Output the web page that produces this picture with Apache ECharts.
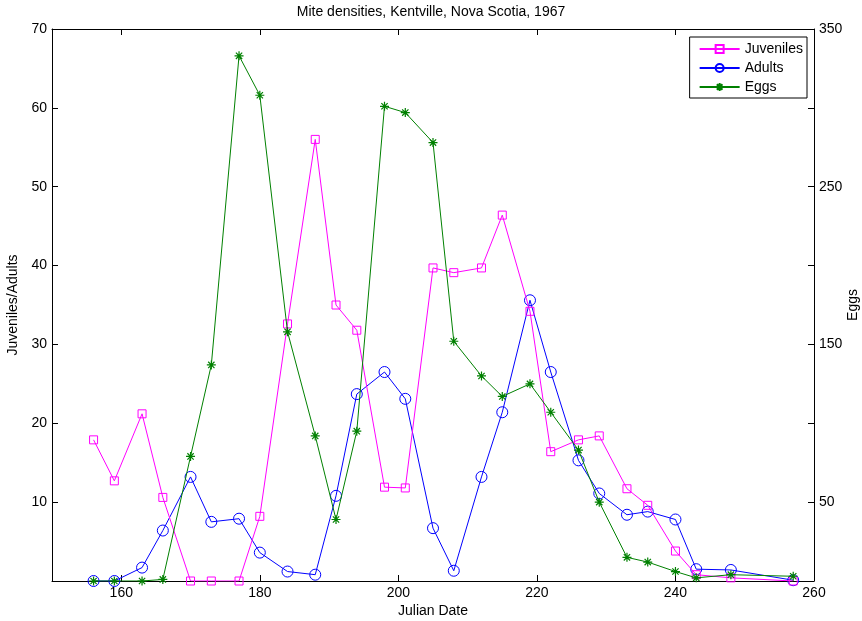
<!DOCTYPE html>
<html><head><meta charset="utf-8">
<script src="https://cdn.jsdelivr.net/npm/echarts@6/dist/echarts.min.js"></script>
<style>html,body{margin:0;padding:0;background:#fff}#c{width:862px;height:621px}</style>
</head><body><div id="c"></div>
<script>
const days = [156,159,163,166,170,173,177,180,184,188,191,194,198,201,205,208,212,215,219,222,226,229,233,236,240,243,248,257];
const juveniles = [17.9,12.7,21.2,10.6,0,0,0,8.2,32.6,56.0,35.0,31.8,11.9,11.8,39.7,39.1,39.7,46.4,34.2,16.4,17.9,18.4,11.7,9.6,3.8,0.8,0.4,0];
const adults = [0,0,1.7,6.4,13.2,7.5,7.9,3.6,1.2,0.8,10.8,23.7,26.5,23.1,6.7,1.3,13.2,21.4,35.6,26.5,15.3,11.1,8.4,8.8,7.8,1.5,1.4,0.1];
const eggs = [0,0,0,1,79,137,333,308,158,92,39,95,301,297,278,152,130,117,125,107,83,50,15,12,6,2,4,3];
const xTicks = [160,180,200,220,240,260];
const leftLabels = [10,20,30,40,50,60,70];
const rightTicks = [50,100,150,200,250,300,350];
const rightLabels = [50,150,250,350];

const font = 'Liberation Sans, Arial, Helvetica, sans-serif';
const pair = (xs, ys) => xs.map((x,i)=>[x, ys[i]]);
const star = 'path://M0,5L10,5M5,0L5,10M1.5,1.5L8.5,8.5M8.5,1.5L1.5,8.5';

const chart = echarts.init(document.getElementById('c'), null, {renderer:'canvas'});
const line = {show:true, onZero:false, lineStyle:{color:'#000', width:1}};
const tick = vals => ({show:true, inside:true, length:6, customValues:vals, lineStyle:{color:'#000', width:1}});
const lab = (vals, extra) => Object.assign({color:'#000', fontSize:14, fontFamily:font, customValues:vals, margin:5}, extra||{});
const nameStyle = {fontSize:14, color:'#000', fontFamily:font};
chart.setOption({
  animation:false,
  backgroundColor:'#fff',
  title:{text:'Mite densities, Kentville, Nova Scotia, 1967', left:'center', top:0,
    textStyle:{fontSize:14, fontWeight:'normal', color:'#000', fontFamily:font}},
  grid:{left:52, right:48, top:29, bottom:40, containLabel:false, outerBoundsMode:'none'},
  legend:{
    right:55, top:37, orient:'vertical', itemWidth:40, itemHeight:10, itemGap:5,
    backgroundColor:'#fff', borderColor:'#000', borderWidth:1, borderRadius:0,
    padding:[5,4,4,9],
    textStyle:{fontSize:14, lineHeight:14, color:'#000', fontFamily:font},
    data:['Juveniles','Adults','Eggs']
  },
  xAxis:[
    {type:'value', min:150, max:260, position:'bottom', splitLine:{show:false},
      name:'Julian Date', nameLocation:'middle', nameGap:23, nameMoveOverlap:false, nameTextStyle:nameStyle,
      axisLine:line, axisTick:tick(xTicks), axisLabel:lab(xTicks)},
    {type:'value', min:150, max:260, position:'top', splitLine:{show:false},
      axisLine:line, axisTick:tick(xTicks), axisLabel:{show:false}}
  ],
  yAxis:[
    {type:'value', min:0, max:70, position:'left', splitLine:{show:false},
      name:'Juveniles/Adults', nameLocation:'middle', nameGap:32, nameRotate:90, nameMoveOverlap:false, nameTextStyle:nameStyle,
      axisLine:line, axisTick:tick(leftLabels), axisLabel:lab(leftLabels)},
    {type:'value', min:0, max:350, position:'right', splitLine:{show:false},
      name:'Eggs', nameLocation:'middle', nameGap:32, nameRotate:90, nameMoveOverlap:false, nameTextStyle:nameStyle,
      axisLine:line, axisTick:tick(rightTicks), axisLabel:lab(rightLabels)}
  ],
  series:[
    {name:'Juveniles', type:'line', xAxisIndex:0, yAxisIndex:0, data:pair(days, juveniles),
      symbol:'rect', symbolSize:8, showAllSymbol:true,
      lineStyle:{color:'#ff00ff', width:1}, itemStyle:{color:'transparent', borderColor:'#ff00ff', borderWidth:1}, z:3},
    {name:'Adults', type:'line', xAxisIndex:0, yAxisIndex:0, data:pair(days, adults),
      symbol:'circle', symbolSize:11, showAllSymbol:true,
      lineStyle:{color:'#0000ff', width:1}, itemStyle:{color:'transparent', borderColor:'#0000ff', borderWidth:1}, z:2},
    {name:'Eggs', type:'line', xAxisIndex:0, yAxisIndex:1, data:pair(days, eggs),
      symbol:star, symbolSize:9, showAllSymbol:true,
      lineStyle:{color:'#008000', width:1}, itemStyle:{color:'none', borderColor:'#008000', borderWidth:1.2}, z:4}
  ]
});
</script></body></html>
